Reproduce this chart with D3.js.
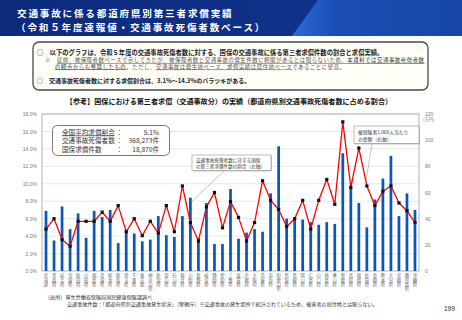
<!DOCTYPE html>
<html><head><meta charset="utf-8">
<script src="https://cdn.jsdelivr.net/npm/d3@7"></script>
<style>
html,body{margin:0;padding:0;background:#fff;}
svg{display:block;font-family:"Noto Sans CJK JP","Noto Sans",sans-serif;}
</style></head>
<body>
<script>
const prefectures = ["北海道","青森県","岩手県","宮城県","秋田県","山形県","福島県","茨城県","栃木県","群馬県","埼玉県","千葉県","東京都","神奈川県","新潟県","富山県","石川県","福井県","山梨県","長野県","岐阜県","静岡県","愛知県","三重県","滋賀県","京都府","大阪府","兵庫県","奈良県","和歌山県","鳥取県","島根県","岡山県","広島県","山口県","徳島県","香川県","愛媛県","高知県","福岡県","佐賀県","長崎県","熊本県","大分県","宮崎県","鹿児島県","沖縄県"];
// 交通事故死傷者数に対する国保の第三者求償件数の割合 (%) 左軸
const claimRatio = [6.9,3.5,7.4,4.8,6.6,3.8,6.9,6.2,7.0,3.2,4.6,4.3,3.4,3.6,6.3,4.1,3.9,6.3,8.4,3.8,7.8,3.1,3.1,9.4,3.7,4.4,4.8,4.5,8.9,14.3,6.0,6.0,5.9,5.6,5.3,5.6,5.4,13.5,9.6,7.8,5.0,8.2,10.6,13.2,6.3,8.9,7.0];
// 被保険者1,000人当たりの金額 (万円) 右軸
const amountPer1000 = [32,40,24,19,38,38,38,45,38,50,30,40,27,38,29,50,30,65,37,23,49,60,33,53,41,23,37,69,54,47,34,40,54,32,54,70,51,114,64,94,65,50,61,65,52,46,37];
const leftTicks = [0,2,4,6,8,10,12,14,16,18];
const rightTicks = [0,20,40,60,80,100,120];

const W = 462, H = 320;
const svg = d3.select("body").append("svg").attr("width", W).attr("height", H);
const defs = svg.append("defs");

// Header banner
const g1 = defs.append("linearGradient").attr("id","hdr").attr("x1","0").attr("x2","1");
g1.append("stop").attr("offset","0").attr("stop-color","#0b2a7c");
g1.append("stop").attr("offset","1").attr("stop-color","#12378f");
const g2 = defs.append("linearGradient").attr("id","hdr2").attr("x1","0").attr("x2","1");
g2.append("stop").attr("offset","0").attr("stop-color","#2c6ad6");
g2.append("stop").attr("offset","0.25").attr("stop-color","#1a4db5");
g2.append("stop").attr("offset","1").attr("stop-color","#1746a6");
svg.append("rect").attr("x",0).attr("y",0).attr("width",W).attr("height",36).attr("fill","url(#hdr)");
svg.append("path").attr("d","M318,0 L462,0 L462,36 L292,36 Z").attr("fill","url(#hdr2)");
const title = svg.append("g").attr("fill","#fff").attr("font-weight","bold").attr("font-size",9.6).attr("letter-spacing",1.8);
title.append("text").attr("x",17).attr("y",16.5).text("交通事故に係る都道府県別第三者求償実績");
title.append("text").attr("x",16).attr("y",30.5).text("（令和５年度速報値・交通事故死傷者数ベース）");

// Info box
svg.append("rect").attr("x",33).attr("y",42).attr("width",395).attr("height",48).attr("rx",6)
  .attr("fill","#fffef6").attr("stroke","#4a4a4a").attr("stroke-width",1.3);
const info = svg.append("g");
info.append("text").attr("x",37).attr("y",55).attr("font-size",6.3).attr("font-weight","bold").attr("fill","#222")
  .text("○　以下のグラフは、令和５年度の交通事故死傷者数に対する、国保の交通事故に係る第三者求償件数の割合と求償実績。");
const l2 = info.append("text").attr("x",45).attr("y",62).attr("font-size",5.4).attr("fill","#555").attr("letter-spacing",0.55);
l2.append("tspan").text("※　");
l2.append("tspan").attr("text-decoration","underline").text("従前、被保険者数ベースで示してきたが、");
l2.append("tspan").attr("text-decoration","underline").text("被保険者数と交通事故の発生件数に相関があるとは限らないため、");
l2.append("tspan").attr("text-decoration","underline").attr("fill","#333").text("本資料では交通事故死傷者数");
const l3 = info.append("text").attr("x",55).attr("y",68.5).attr("font-size",5.4).attr("fill","#555").attr("letter-spacing",0.55);
l3.append("tspan").attr("text-decoration","underline").attr("fill","#333").text("の観点からも整理したもの");
l3.append("tspan").text("。ただし、");
l3.append("tspan").attr("text-decoration","underline").text("交通事故は発生地ベース、求償実績は居住地ベース");
l3.append("tspan").text("であることに留意。");
info.append("text").attr("x",37).attr("y",82.5).attr("font-size",6).attr("font-weight","bold").attr("fill","#222")
  .text("○　交通事故死傷者数に対する求償割合は、3.1%～14.3%のバラツキがある。");

// Chart title
svg.append("text").attr("x",229).attr("y",103.5).attr("text-anchor","middle").attr("font-size",7.1)
  .attr("font-weight","bold").attr("fill","#111")
  .text("【参考】国保における第三者求償（交通事故分）の実績（都道府県別交通事故死傷者数に占める割合）");

// Scales
const x = d3.scaleBand().domain(prefectures).range([42,419]).paddingInner(0.66).paddingOuter(0.33);
const yL = d3.scaleLinear().domain([0,18]).range([271,114]);
const yR = d3.scaleLinear().domain([0,120]).range([271,114]);

// gridlines
svg.append("g").selectAll("line").data(leftTicks.slice(1)).join("line")
  .attr("x1",42).attr("x2",419).attr("y1",d=>yL(d)).attr("y2",d=>yL(d))
  .attr("stroke","#d9d9d9").attr("stroke-width",0.6);

// plot frame
svg.append("rect").attr("x",42).attr("y",114).attr("width",377).attr("height",157)
  .attr("fill","none").attr("stroke","#a0a0a0").attr("stroke-width",0.8);

// Left axis
const axL = svg.append("g").attr("transform","translate(42,0)")
  .call(d3.axisLeft(yL).tickValues(leftTicks).tickFormat(d=>d.toFixed(1)+"%").tickSize(0).tickPadding(5));
axL.select(".domain").remove();
axL.selectAll("text").attr("font-size",5).attr("fill","#7a7a7a").attr("font-family","Liberation Sans, Arial, sans-serif");

// Right axis
const axR = svg.append("g").attr("transform","translate(419,0)")
  .call(d3.axisRight(yR).tickValues(rightTicks).tickSize(0).tickPadding(6));
axR.select(".domain").remove();
axR.selectAll("text").attr("font-size",5).attr("fill","#7a7a7a").attr("font-family","Liberation Sans, Arial, sans-serif");
svg.append("text").attr("x",423).attr("y",121).attr("font-size",4.3).attr("fill","#7a7a7a").text("(万円)");

// Bars
svg.append("g").selectAll("rect").data(prefectures).join("rect")
  .attr("x",d=>x(d)).attr("width",x.bandwidth())
  .attr("y",(d,i)=>yL(claimRatio[i])).attr("height",(d,i)=>yL(0)-yL(claimRatio[i]))
  .attr("fill","#0b57b8");

// Line
const cx = d=>x(d)+x.bandwidth()/2;
svg.append("path").datum(prefectures)
  .attr("d", d3.line().x(d=>cx(d)).y((d,i)=>yR(amountPer1000[i])))
  .attr("fill","none").attr("stroke","#ff0000").attr("stroke-width",1.3).attr("stroke-linejoin","round");
svg.append("g").selectAll("rect").data(prefectures).join("rect")
  .attr("x",d=>cx(d)-1.6).attr("y",(d,i)=>yR(amountPer1000[i])-1.6)
  .attr("width",3.2).attr("height",3.2).attr("fill","#111");

// Category labels (vertical writing mode)
svg.append("g").selectAll("text").data(prefectures).join("text")
  .attr("x",d=>cx(d)).attr("y",273.5)
  .style("writing-mode","vertical-rl").style("text-orientation","upright")
  .attr("font-size",4.3).attr("letter-spacing",0.1).attr("fill","#666")
  .text(d=>d);

// Stats box
svg.append("rect").attr("x",52.5).attr("y",125.5).attr("width",117).attr("height",30).attr("rx",5)
  .attr("fill","#fff").attr("stroke","#555").attr("stroke-width",0.8);
const st = svg.append("g").attr("font-size",6.6).attr("fill","#333");
st.append("text").attr("x",62).attr("y",134.5).attr("text-decoration","underline").text("全国平均求償割合");
st.append("text").attr("x",116).attr("y",134.5).text("：");
st.append("text").attr("x",159).attr("y",134.5).attr("text-anchor","end").text("5.1%");
st.append("text").attr("x",62).attr("y",143).text("交通事故死傷者数");
st.append("text").attr("x",116).attr("y",143).text("：");
st.append("text").attr("x",159).attr("y",143).attr("text-anchor","end").text("368,273件");
st.append("text").attr("x",62).attr("y",151.5).text("国保求償件数");
st.append("text").attr("x",116).attr("y",151.5).text("：");
st.append("text").attr("x",159).attr("y",151.5).attr("text-anchor","end").text("18,870件");

// Callout 1 (bars, left axis) pointing to 山梨県
const p1 = "山梨県", i1 = prefectures.indexOf(p1);
svg.append("line").attr("x1",224).attr("y1",171).attr("x2",cx(p1)+1).attr("y2",yL(claimRatio[i1])+4)
  .attr("stroke","#888").attr("stroke-width",0.5);
svg.append("rect").attr("x",193).attr("y",156).attr("width",79).attr("height",15.5).attr("fill","#9a9a9a").attr("opacity",0.5);
svg.append("rect").attr("x",192).attr("y",155).attr("width",79).attr("height",15.5)
  .attr("fill","#fff").attr("stroke","#777").attr("stroke-width",0.5);
const c1 = svg.append("g").attr("font-size",4.6).attr("fill","#333");
c1.append("text").attr("x",196).attr("y",161.8).text("交通事故死傷者数に対する国保");
c1.append("text").attr("x",196).attr("y",168).text("の第三者求償件数の割合（左軸）");

// Callout 2 (line, right axis) pointing to 佐賀県
const p2 = "佐賀県", i2 = prefectures.indexOf(p2);
svg.append("line").attr("x1",372).attr("y1",144).attr("x2",cx(p2)-1).attr("y2",yR(amountPer1000[i2])-4)
  .attr("stroke","#888").attr("stroke-width",0.5);
svg.append("rect").attr("x",355).attr("y",127).attr("width",65).attr("height",17.5).attr("fill","#9a9a9a").attr("opacity",0.5);
svg.append("rect").attr("x",354).attr("y",126).attr("width",65).attr("height",17.5)
  .attr("fill","#fff").attr("stroke","#777").attr("stroke-width",0.5);
const c2 = svg.append("g").attr("font-size",4.8).attr("fill","#333");
c2.append("text").attr("x",358).attr("y",133.5).text("被保険者1,000人当たり");
c2.append("text").attr("x",358).attr("y",140.5).text("の金額（右軸）");

// Footnotes
const fn = svg.append("g").attr("font-size",5.1).attr("fill","#333");
fn.append("text").attr("x",45).attr("y",299).text("（出所）厚生労働省保険局国民健康保険課調べ");
fn.append("text").attr("x",67).attr("y",305.5).text("交通事故件数：「都道府県別交通事故発生状況」（警察庁）※交通事故の発生場所で統計されているため、被害者の居住地とは限らない。");
svg.append("text").attr("x",444).attr("y",311).attr("font-size",6.5).attr("fill","#222")
  .attr("font-family","Liberation Sans, Arial, sans-serif").text("199");
</script>
</body></html>
